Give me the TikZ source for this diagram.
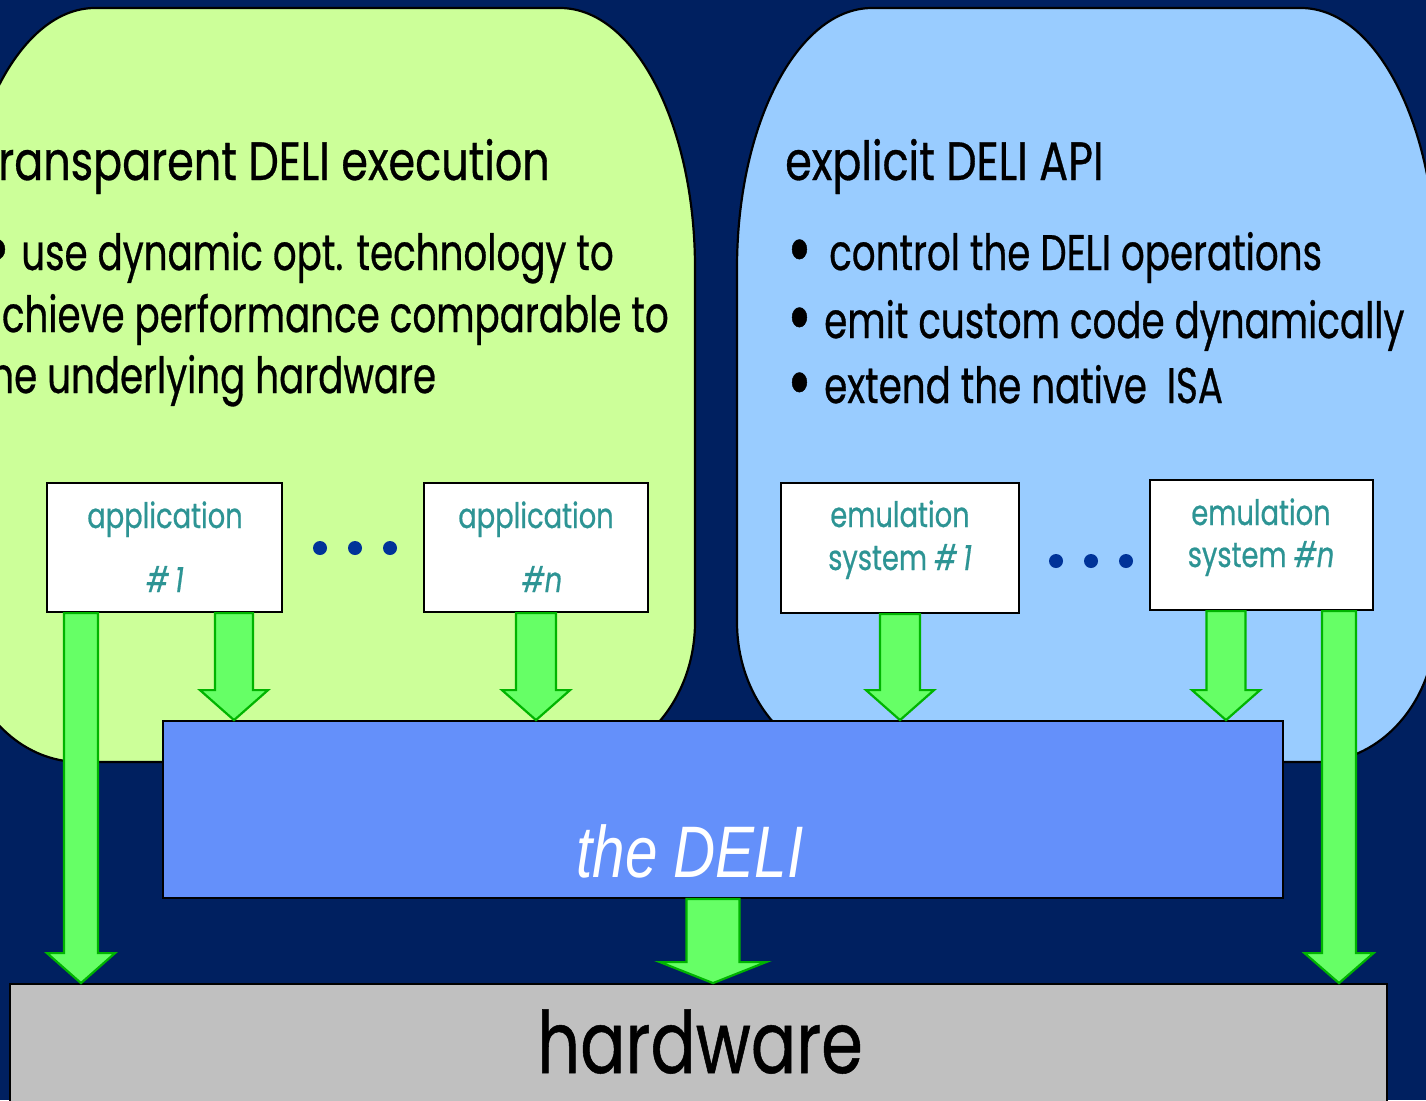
\documentclass[tikz,border=0pt]{standalone}
\usepackage{fontspec}
\setmainfont{Poppins}[FakeStretch=0.78, FakeBold=0.6]
\newfontfamily\headfont{Poppins}[FakeStretch=0.795, FakeBold=0.6]
\newfontfamily\bodyfont{Poppins}[FakeStretch=0.745, FakeBold=0.6]
\newfontfamily\delifont{Liberation Sans}[FakeStretch=0.8]
\usetikzlibrary{calc}

\definecolor{navy}{HTML}{002060}
\definecolor{leafgreen}{HTML}{CCFF99}
\definecolor{skyblue}{HTML}{99CCFF}
\definecolor{deliblue}{HTML}{6490FA}
\definecolor{hwgray}{HTML}{C0C0C0}
\definecolor{teal}{HTML}{2D9494}
\definecolor{dotblue}{HTML}{003399}
\definecolor{arrowfill}{HTML}{66FF66}
\definecolor{arrowedge}{HTML}{00B400}

% large list bullet in a box of given width
\newcommand\bigbullet[1]{\makebox[#1][l]{\smash{\raisebox{-6pt}{\scalebox{1.6}{•}}}}}

% downward block arrow: centre x, source anchor, target anchor,
% half shaft width, half head width, head length
\newcommand\blockdown[6]{%
  \draw[garrow] let \p1=(#2), \p2=(#3) in
    ({#1pt-#4pt},\y1) -- ({#1pt+#4pt},\y1) -- ({#1pt+#4pt},{\y2+#6pt})
    -- ({#1pt+#5pt},{\y2+#6pt}) -- (#1pt,\y2) -- ({#1pt-#5pt},{\y2+#6pt})
    -- ({#1pt-#4pt},{\y2+#6pt}) -- cycle;}

% rounded panel with elliptic corners: left, right, top, bottom, style
\newcommand\panel[5]{%
  \draw[#5] ({#1+135},#3) -- ({#2-135},#3)
    arc[start angle=-90, end angle=0, x radius=135, y radius=260]
    -- (#2,{#4-140})
    arc[start angle=0, end angle=90, x radius=120, y radius=140]
    -- ({#1+120},#4)
    arc[start angle=90, end angle=180, x radius=120, y radius=140]
    -- (#1,{#3+260})
    arc[start angle=180, end angle=270, x radius=135, y radius=260]
    -- cycle;}

\begin{document}
\begin{tikzpicture}[x=1pt,y=-1pt,
  panelstyle/.style={line width=2.2pt},
  appbox/.style={draw=black, fill=white, line width=2.2pt, inner sep=0},
  garrow/.style={fill=arrowfill, draw=arrowedge, line width=2.2pt, line join=miter},
  bigbox/.style={draw=black, line width=1.8pt, inner sep=0},
  head/.style={inner sep=0, anchor=base west, font=\headfont\fontsize{54}{60}\selectfont},
  bullet/.style={inner sep=0, font=\bodyfont\fontsize{50}{60}\selectfont},
  boxlabel/.style={inner sep=0, anchor=base, text=teal, font=\fontsize{35}{40}\selectfont},
  dot/.style={circle, fill=dotblue, inner sep=0, minimum size=14pt}]

\useasboundingbox (0,0) rectangle (1426,1100);
\clip (0,0) rectangle (1426,1100);
\fill[navy] (0,0) rectangle (1426,1100);

% the two rounded panels
\panel{-40}{695}{8}{762}{panelstyle, draw=black, fill=leafgreen}
\panel{737}{1436}{8}{762}{panelstyle, draw=black, fill=skyblue}

% panel headings and bullet lists
\node[head, anchor=base east] (lhead) at (550,180) {transparent DELI execution};
\node[bullet, anchor=base east] (l1) at (614,270) {\bigbullet{36pt}use dynamic opt. technology to};
\node[bullet, anchor=base east] (l2) at (669,332) {achieve performance comparable to};
\node[bullet, anchor=base west] (l3) at (l2.base west |- 0,393) {the underlying hardware};

\node[head] (rhead) at (785,180) {explicit DELI API};
\node[bullet, anchor=base west] (r1) at (787,270) {\bigbullet{42pt}control the DELI operations};
\node[bullet, anchor=base west] (r2) at (787,338) {\bigbullet{37pt}emit custom code dynamically};
\node[bullet, anchor=base west] (r3) at (787,403) {\bigbullet{37pt}extend the native\ \ ISA};

% application and emulation boxes
\node[appbox, minimum width=235pt, minimum height=129pt] (app1) at (164.5,547.5) {};
\node[appbox, minimum width=224pt, minimum height=129pt] (appn) at (536,547.5) {};
\node[appbox, minimum width=238pt, minimum height=130pt] (emu1) at (900,548) {};
\node[appbox, minimum width=223pt, minimum height=130pt] (emun) at (1261.5,545) {};

\node[boxlabel] (app1a) at (165,528) {application};
\node[boxlabel] (app1b) at (165,592) {\itshape\#\,1};
\node[boxlabel] (appna) at (536,528) {application};
\node[boxlabel] (appnb) at (542,592) {\itshape\#n};
\node[boxlabel] (emu1a) at (900,527) {emulation};
\node[boxlabel] (emu1b) at (900,570) {system \itshape\#\,1};
\node[boxlabel] (emuna) at (1261,525) {emulation};
\node[boxlabel] (emunb) at (1261,567) {system \itshape\#n};

% ellipses between the boxes
\node[dot] (d1) at (320,548) {};
\node[dot] (d2) at (355,548) {};
\node[dot] (d3) at (390,548) {};
\node[dot] (d4) at (1056,561) {};
\node[dot] (d5) at (1091,561) {};
\node[dot] (d6) at (1126,561) {};

% DELI layer and hardware
\node[bigbox, fill=deliblue, minimum width=1120pt, minimum height=177pt] (deli) at (723,809.5) {};
\node[bigbox, fill=hwgray, minimum width=1377pt, minimum height=146pt] (hw) at (698.5,1057) {};

% block arrows
\blockdown{81}{app1.south}{hw.north}{17}{34}{30}
\blockdown{234}{app1.south}{deli.north}{19}{34}{30}
\blockdown{536}{appn.south}{deli.north}{20}{34}{30}
\blockdown{900}{emu1.south}{deli.north}{20}{34}{30}
\blockdown{1226}{emun.south}{deli.north}{19.5}{34}{30}
\blockdown{1339}{emun.south}{hw.north}{17}{34.5}{30}
\blockdown{713}{deli.south}{hw.north}{26.5}{53}{21}

\node[inner sep=0, anchor=base, text=white, font=\delifont\itshape\fontsize{73}{80}\selectfont] (delil) at (690,877) {the DELI};
\node[inner sep=0, anchor=base, font=\fontsize{86}{96}\selectfont] (hwl) at (700,1073) {hardware};
\end{tikzpicture}
\end{document}
